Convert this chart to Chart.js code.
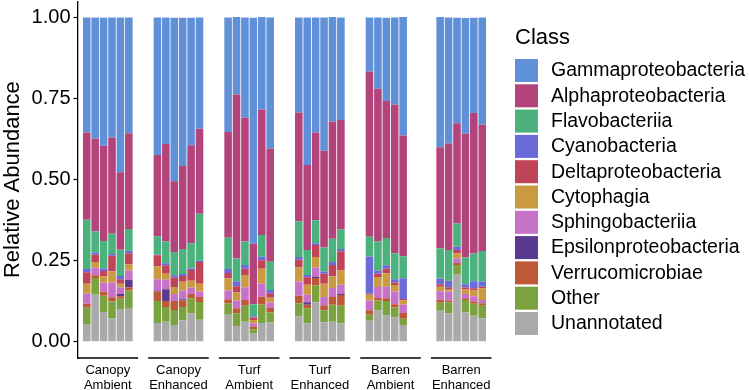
<!DOCTYPE html>
<html lang="en">

<head>
    <meta charset="UTF-8">
    <title>Relative Abundance by Class</title>
    <script src="https://cdn.jsdelivr.net/npm/chart.js"></script>
    <style>
        body { margin: 0; background: #fff; }
        #wrap { width: 749px; height: 390px; }
    </style>
</head>

<body>
    <div id="wrap"><canvas id="abundanceChart"></canvas></div>

    <script>
        // facets (6 samples each, Barren Ambient has only 5)
        const panels = [['Canopy', 'Ambient'], ['Canopy', 'Enhanced'], ['Turf', 'Ambient'],
                        ['Turf', 'Enhanced'], ['Barren', 'Ambient'], ['Barren', 'Enhanced']];
        const yTicks = [0, 0.25, 0.5, 0.75, 1];

        // legend order (top of stack first)
        const classes = ['Gammaproteobacteria', 'Alphaproteobacteria', 'Flavobacteriia', 'Cyanobacteria',
                         'Deltaproteobacteria', 'Cytophagia', 'Sphingobacteriia', 'Epsilonproteobacteria',
                         'Verrucomicrobiae', 'Other', 'Unannotated'];
        const colors = ['#6090D8', '#B3437B', '#4CB27D', '#6A6AD8', '#BF4458', '#C99A40',
                        '#C772C9', '#5A3A8E', '#BE5837', '#7AA33F', '#AAAAAA'];

        // relative abundance, 6 bars per panel in panel order
        const gamma = [0.355, 0.374, 0.395, 0.370, 0.477, 0.357,
                       0.424, 0.390, 0.504, 0.457, 0.393, 0.343,
                       0.353, 0.239, 0.309, 0.697, 0.285, 0.404,
                       0.293, 0.455, 0.355, 0.411, 0.322, 0.316,
                       0.167, 0.220, 0.257, 0.269, 0.365, null,
                       0.401, 0.389, 0.325, 0.357, 0.294, 0.331];
        const alpha = [0.269, 0.285, 0.293, 0.297, 0.239, 0.295,
                       0.251, 0.301, 0.218, 0.256, 0.302, 0.262,
                       0.326, 0.505, 0.382, 0.186, 0.387, 0.349,
                       0.336, 0.262, 0.270, 0.298, 0.361, 0.338,
                       0.509, 0.471, 0.422, 0.458, 0.372, null,
                       0.312, 0.328, 0.309, 0.381, 0.433, 0.389];
        const flavo = [0.152, 0.066, 0.085, 0.062, 0.081, 0.067,
                       0.056, 0.067, 0.072, 0.077, 0.078, 0.145,
                       0.097, 0.070, 0.072, 0.037, 0.067, 0.087,
                       0.110, 0.077, 0.071, 0.074, 0.072, 0.060,
                       0.061, 0.089, 0.084, 0.080, 0.068, null,
                       0.094, 0.095, 0.072, 0.083, 0.085, 0.094];
        const cyano = [0.010, 0.007, 0.008, 0.006, 0.010, 0.008,
                       0.002, 0.006, 0.007, 0.006, 0.005, 0.004,
                       0.012, 0.016, 0.012, 0.004, 0.011, 0.010,
                       0.008, 0.007, 0.006, 0.007, 0.009, 0.007,
                       0.115, 0.010, 0.010, 0.010, 0.064, null,
                       0.017, 0.020, 0.010, 0.010, 0.022, 0.016];
        const delta = [0.035, 0.022, 0.016, 0.048, 0.014, 0.034,
                       0.035, 0.026, 0.029, 0.018, 0.033, 0.067,
                       0.016, 0.019, 0.019, 0.008, 0.026, 0.014,
                       0.024, 0.023, 0.037, 0.031, 0.035, 0.059,
                       0.003, 0.010, 0.015, 0.008, 0.005, null,
                       0.007, 0.005, 0.010, 0.006, 0.007, 0.005];
        const cytophagia = [0.031, 0.018, 0.020, 0.034, 0.011, 0.019,
                            0.039, 0.019, 0.022, 0.027, 0.021, 0.024,
                            0.038, 0.025, 0.038, 0.010, 0.045, 0.015,
                            0.043, 0.031, 0.032, 0.041, 0.036, 0.044,
                            0.018, 0.031, 0.041, 0.020, 0.012, null,
                            0.014, 0.008, 0.016, 0.014, 0.018, 0.036];
        const sphingo = [0.031, 0.023, 0.028, 0.046, 0.021, 0.029,
                         0.035, 0.029, 0.021, 0.027, 0.020, 0.017,
                         0.027, 0.024, 0.039, 0.010, 0.041, 0.017,
                         0.044, 0.023, 0.028, 0.025, 0.028, 0.028,
                         0.030, 0.034, 0.036, 0.039, 0.026, null,
                         0.026, 0.028, 0.014, 0.013, 0.016, 0.010];
        const epsilon = [0, 0, 0, 0, 0.007, 0.023,
                         0.003, 0.036, 0, 0.003, 0, 0,
                         0, 0, 0, 0, 0, 0,
                         0, 0.008, 0.004, 0, 0, 0.004,
                         0, 0, 0, 0, 0, null,
                         0, 0, 0, 0, 0, 0];
        const verruco = [0.012, 0.008, 0.012, 0.013, 0.007, 0.010,
                         0.029, 0.019, 0.028, 0.021, 0.013, 0.015,
                         0.012, 0.015, 0.018, 0.008, 0.024, 0.014,
                         0.023, 0.011, 0.023, 0.016, 0.024, 0.033,
                         0.014, 0.008, 0.008, 0.010, 0.018, null,
                         0.010, 0.005, 0.006, 0.005, 0.007, 0.008];
        const other = [0.050, 0.052, 0.050, 0.052, 0.034, 0.056,
                       0.068, 0.045, 0.046, 0.041, 0.046, 0.055,
                       0.036, 0.039, 0.049, 0.014, 0.057, 0.030,
                       0.041, 0.047, 0.052, 0.037, 0.052, 0.055,
                       0.018, 0.030, 0.044, 0.031, 0.019, null,
                       0.024, 0.034, 0.030, 0.039, 0.037, 0.039];
        const unannotated = [0.055, 0.145, 0.092, 0.072, 0.099, 0.102,
                             0.058, 0.062, 0.052, 0.066, 0.088, 0.068,
                             0.083, 0.049, 0.062, 0.025, 0.058, 0.060,
                             0.078, 0.056, 0.122, 0.060, 0.062, 0.056,
                             0.065, 0.097, 0.082, 0.075, 0.052, null,
                             0.096, 0.088, 0.207, 0.090, 0.080, 0.072];

        const series = [gamma, alpha, flavo, cyano, delta, cytophagia, sphingo, epsilon, verruco, other, unannotated];

        // x layout: each panel = 0.6 pad + 6 bars + 0.6 pad, then a 1.2 gap
        const PANEL_STEP = 8.4, PANEL_W = 7.2;
        const barX = i => Math.floor(i / 6) * PANEL_STEP + 0.6 + (i % 6) + 0.5;
        const panelCenters = panels.map((p, i) => i * PANEL_STEP + PANEL_W / 2);

        const FONT = '"Liberation Sans", Arial, sans-serif';
        Chart.defaults.font.family = FONT;
        Chart.defaults.color = '#000';

        // bottom of stack first for Chart.js
        const datasets = series.map((vals, k) => ({
            label: classes[k],
            data: vals.map((v, i) => v === null ? null : { x: barX(i), y: v }).filter(Boolean),
            backgroundColor: colors[k],
            borderWidth: 0,
            categoryPercentage: 1,
            barPercentage: 0.9
        })).reverse();

        // one axis line under each facet
        const panelAxes = {
            id: 'panelAxes',
            afterDraw(chart) {
                const { ctx, chartArea, scales: { x } } = chart;
                ctx.save();
                ctx.strokeStyle = '#000';
                ctx.lineWidth = 1.3;
                panels.forEach((p, i) => {
                    ctx.beginPath();
                    ctx.moveTo(x.getPixelForValue(i * PANEL_STEP), chartArea.bottom);
                    ctx.lineTo(x.getPixelForValue(i * PANEL_STEP + PANEL_W), chartArea.bottom);
                    ctx.stroke();
                });
                ctx.restore();
            }
        };

        // ggplot style legend on the right
        const classLegend = {
            id: 'classLegend',
            afterDraw(chart) {
                const ctx = chart.ctx;
                ctx.save();
                ctx.fillStyle = '#000';
                ctx.font = '22px ' + FONT;
                ctx.textBaseline = 'alphabetic';
                ctx.fillText('Class', 515, 44);
                ctx.font = '19.5px ' + FONT;
                ctx.textBaseline = 'middle';
                classes.forEach((c, i) => {
                    const top = 59 + i * 25.3;
                    ctx.fillStyle = colors[i];
                    ctx.fillRect(515, top, 23, 23);
                    ctx.fillStyle = '#000';
                    ctx.fillText(c, 551, top + 12);
                });
                ctx.restore();
            }
        };

        const ctx = document.getElementById('abundanceChart').getContext('2d');
        new Chart(ctx, {
            type: 'bar',
            data: { datasets: datasets },
            options: {
                responsive: true,
                maintainAspectRatio: false,
                animation: false,
                layout: { padding: { left: 0, top: 1.2, right: 257.5, bottom: 0 } },
                scales: {
                    x: {
                        type: 'linear',
                        stacked: true,
                        offset: false,
                        min: 0,
                        max: PANEL_STEP * panels.length - (PANEL_STEP - PANEL_W),
                        grid: { display: false, drawTicks: false, offset: false },
                        border: { display: false },
                        afterBuildTicks: s => { s.ticks = panelCenters.map(v => ({ value: v })); },
                        afterFit: s => { s.height = 32; s.paddingLeft = 0; s.paddingRight = 0; },
                        ticks: {
                            autoSkip: false,
                            maxRotation: 0,
                            padding: 5,
                            color: '#000',
                            font: { size: 13, lineHeight: 1.15 },
                            callback: (v, i) => panels[i]
                        }
                    },
                    y: {
                        stacked: true,
                        min: -0.05,
                        max: 1.05,
                        afterBuildTicks: s => { s.ticks = yTicks.map(v => ({ value: v })); },
                        afterFit: s => { s.width = 77.5; s.paddingTop = 0; s.paddingBottom = 0; },
                        grid: { drawOnChartArea: false, tickLength: 4, color: '#000', tickWidth: 1.2 },
                        border: { color: '#000', width: 1.3 },
                        ticks: {
                            padding: 3,
                            color: '#000',
                            font: { size: 20 },
                            callback: v => v.toFixed(2)
                        },
                        title: {
                            display: true,
                            text: 'Relative Abundance',
                            color: '#000',
                            font: { size: 22 },
                            padding: 0
                        }
                    }
                },
                plugins: {
                    legend: { display: false },
                    tooltip: { enabled: true }
                }
            },
            plugins: [panelAxes, classLegend]
        });
    </script>
</body>

</html>
